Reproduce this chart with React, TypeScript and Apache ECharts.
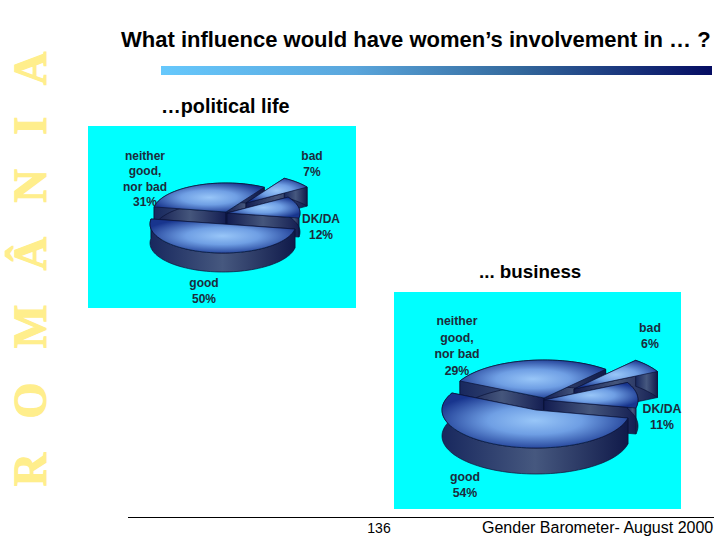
import React, { useEffect, useRef } from "react";
import * as echarts from "echarts";

const categories = ["good", "neither\ngood,\nnor bad", "bad", "DK/DA"];
const politicalValues = [50, 31, 7, 12];
const businessValues = [54, 29, 6, 11];
const drawOrder = [1, 2, 3, 0];

const titleText = "What influence would have women\u2019s involvement in \u2026 ?";
const politicalText = "\u2026political life";
const businessText = "... business";
const sideText = "R   O   M   \u00C2   N   I   A";
const pageNumber = "136";
const footerText = "Gender Barometer- August 2000";

const topFill = {
  type: "radial", x: 0.5, y: 0.5, r: 0.56,
  colorStops: [
    { offset: 0, color: "#98c6f8" },
    { offset: 0.45, color: "#6f9fe4" },
    { offset: 1, color: "#18358e" },
  ],
};
const sideFill = {
  type: "linear", x: 0, y: 0, x2: 1, y2: 0,
  colorStops: [
    { offset: 0, color: "#18285e" },
    { offset: 0.5, color: "#46587f" },
    { offset: 1, color: "#101a4a" },
  ],
};
const wallFill = {
  type: "linear", x: 0, y: 0, x2: 1, y2: 0,
  colorStops: [
    { offset: 0, color: "#121c50" },
    { offset: 0.5, color: "#45567c" },
    { offset: 1, color: "#141e52" },
  ],
};
const edge = "#0a1238";

type PieLayout = {
  rx: number; ry: number; depth: number; startAngle: number;
  centers: number[][]; labels: number[][]; fontSize: number; lineHeight: number;
};

function pieSeries(values: number[], layout: PieLayout) {
  const total = values.reduce((a, b) => a + b, 0);
  const starts: number[] = [];
  let running = layout.startAngle;
  values.forEach((v) => {
    starts.push(running);
    running += (v / total) * 360;
  });
  return {
    type: "custom",
    coordinateSystem: "none",
    silent: true,
    data: drawOrder.map((i) => [values[i], i]),
    renderItem: (_params: any, api: any) => {
      const value = api.value(0) as number;
      const index = api.value(1) as number;
      const [cx, cy] = layout.centers[index];
      const a0 = starts[index];
      const a1 = a0 + (value / total) * 360;
      const at = (deg: number, dy = 0) => {
        const t = (deg * Math.PI) / 180;
        return [cx + layout.rx * Math.sin(t), cy - layout.ry * Math.cos(t) + dy];
      };
      const arc: number[][] = [];
      const steps = Math.max(6, Math.ceil((a1 - a0) / 3));
      for (let s = 0; s <= steps; s++) arc.push(at(a0 + ((a1 - a0) * s) / steps));
      const d = layout.depth;
      const lower = arc.map((p) => [p[0], p[1] + d]).reverse();
      const wall = (p: number[]) => ({
        type: "polygon",
        shape: { points: [[cx, cy], p, [p[0], p[1] + d], [cx, cy + d]] },
        style: { fill: wallFill, stroke: edge, lineWidth: 0.7 },
      });
      const [lx, ly] = layout.labels[index];
      return {
        type: "group",
        children: [
          wall(arc[0]),
          wall(arc[arc.length - 1]),
          {
            type: "polygon",
            shape: { points: [...arc, ...lower] },
            style: { fill: sideFill, stroke: edge, lineWidth: 0.7 },
          },
          {
            type: "polygon",
            shape: { points: [[cx, cy], ...arc] },
            style: { fill: topFill, stroke: edge, lineWidth: 0.7 },
          },
          {
            type: "text",
            x: lx,
            y: ly,
            style: {
              text: `${categories[index]}\n${value}%`,
              fontFamily: "Liberation Sans",
              fontWeight: "bold",
              fontSize: layout.fontSize,
              lineHeight: layout.lineHeight,
              fill: "#1c2c3c",
              align: "center",
              verticalAlign: "middle",
            },
          },
        ],
      };
    },
  };
}

const politicalLayout: PieLayout = {
  rx: 73, ry: 29, depth: 19, startAngle: 100,
  centers: [[223, 224], [226, 212], [246, 203], [227, 213]],
  labels: [[204, 291], [145, 179], [312, 164], [321, 227]],
  fontSize: 12, lineHeight: 15.5,
};
const businessLayout: PieLayout = {
  rx: 94, ry: 38, depth: 26, startAngle: 102.2,
  centers: [[536, 410], [544, 398], [574, 389], [544, 400]],
  labels: [[465, 485], [457, 346], [650, 336], [662, 417]],
  fontSize: 12.3, lineHeight: 16.7,
};

const sans = "Liberation Sans";
const option = {
  animation: false,
  graphic: [
    { type: "rect", z: 0, shape: { x: 88, y: 126, width: 268, height: 182 }, style: { fill: "#00ffff" } },
    { type: "rect", z: 0, shape: { x: 394, y: 292, width: 287, height: 217 }, style: { fill: "#00ffff" } },
    {
      type: "rect", z: 0,
      shape: { x: 161, y: 66, width: 551, height: 9 },
      style: {
        fill: {
          type: "linear", x: 0, y: 0, x2: 1, y2: 0,
          colorStops: [
            { offset: 0, color: "#66c8fc" },
            { offset: 0.35, color: "#5aa6dc" },
            { offset: 0.65, color: "#33689c" },
            { offset: 1, color: "#050c62" },
          ],
        },
      },
    },
    {
      type: "text", z: 1, x: 121, y: 39,
      style: { text: titleText, fontFamily: sans, fontWeight: "bold", fontSize: 22, fill: "#000", verticalAlign: "middle" },
    },
    {
      type: "text", z: 1, x: 161, y: 106,
      style: { text: politicalText, fontFamily: sans, fontWeight: "bold", fontSize: 19.8, fill: "#000", verticalAlign: "middle" },
    },
    {
      type: "text", z: 1, x: 479, y: 271,
      style: { text: businessText, fontFamily: sans, fontWeight: "bold", fontSize: 18.8, fill: "#000", verticalAlign: "middle" },
    },
    {
      type: "text", z: 1, x: 30, y: 269, rotation: Math.PI / 2,
      style: {
        text: sideText, fontFamily: "Liberation Serif", fontWeight: "bold", fontSize: 46,
        fill: "#ffee8c", stroke: "#ffee8c", lineWidth: 1.2, align: "center", verticalAlign: "middle",
      },
    },
    { type: "rect", z: 1, shape: { x: 128, y: 517, width: 586, height: 1 }, style: { fill: "#000" } },
    {
      type: "text", z: 1, x: 379, y: 528,
      style: { text: pageNumber, fontFamily: sans, fontSize: 14, fill: "#000", align: "center", verticalAlign: "middle" },
    },
    {
      type: "text", z: 1, x: 482, y: 527,
      style: { text: footerText, fontFamily: sans, fontSize: 16, fill: "#000", verticalAlign: "middle" },
    },
  ],
  series: [pieSeries(politicalValues, politicalLayout), pieSeries(businessValues, businessLayout)],
};

export default function App() {
  const ref = useRef<HTMLDivElement>(null);
  useEffect(() => {
    const chart = echarts.init(ref.current!, null, { renderer: "svg" });
    chart.setOption(option as any);
    return () => chart.dispose();
  }, []);
  return (
    <div
      ref={ref}
      style={{ position: "fixed", left: 0, top: 0, width: 720, height: 540, background: "#fff" }}
    />
  );
}
